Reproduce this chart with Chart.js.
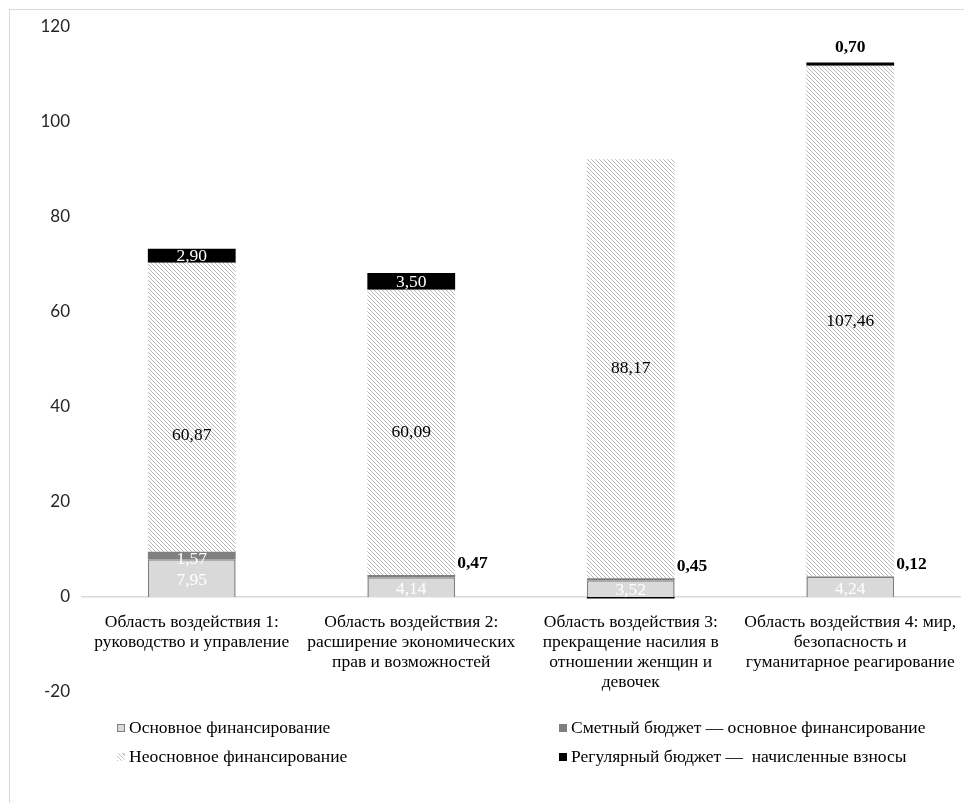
<!DOCTYPE html>
<html lang="ru">
<head>
<meta charset="utf-8">
<script src="https://cdn.jsdelivr.net/npm/chart.js@4"></script>
<style>
  body { margin: 0; background: #fff; }
  #wrap { position: relative; width: 964px; height: 803px; overflow: hidden; }
  #frame { position: absolute; left: 9px; top: 9px; width: 1000px; height: 1000px; border: 1px solid #d9d9d9; pointer-events: none; }
  canvas { position: absolute; left: 0; top: 0; }
  .lg { position: absolute; font: 17.5px "Liberation Serif", serif; color: #000; white-space: pre; line-height: 18px; }
  .lg i { display: inline-block; width: 8px; height: 8px; margin-right: 4px; vertical-align: 1px; box-sizing: border-box; }
</style>
</head>
<body>
<div id="wrap">
  <canvas id="chart" width="964" height="803"></canvas>
  <div id="frame"></div>
</div>
<script>
// категории (подписи по строкам, как в оригинале)
var categories = [
  ['Область воздействия 1:', 'руководство и управление'],
  ['Область воздействия 2:', 'расширение экономических', 'прав и возможностей'],
  ['Область воздействия 3:', 'прекращение насилия в', 'отношении женщин и', 'девочек'],
  ['Область воздействия 4: мир,', 'безопасность и', 'гуманитарное реагирование']
];
var seriesNames = [
  'Основное финансирование',
  'Сметный бюджет — основное финансирование',
  'Неосновное финансирование',
  'Регулярный бюджет —  начисленные взносы'
];
var coreFunding = [7.95, 4.14, 3.52, 4.24];
var budgetCore = [1.57, 0.47, 0.45, 0.12];
var nonCore = [60.87, 60.09, 88.17, 107.46];
var regularBudget = [2.90, 3.50, -0.30, 0.70];
var yTicks = [-20, 0, 20, 40, 60, 80, 100, 120];

var SERIF = '"Liberation Serif", "Times New Roman", serif';
var FS = 17.5;

function makeHatch() {
  var c = document.createElement('canvas');
  c.width = 4; c.height = 4;
  var g = c.getContext('2d');
  g.fillStyle = '#fff';
  g.fillRect(0, 0, 4, 4);
  g.strokeStyle = '#b8b8b8';
  g.lineWidth = 1;
  g.beginPath();
  g.moveTo(0, 0); g.lineTo(4, 4);
  g.moveTo(-1, 3); g.lineTo(1, 5);
  g.moveTo(3, -1); g.lineTo(5, 1);
  g.stroke();
  return document.getElementById('chart').getContext('2d').createPattern(c, 'repeat');
}

function fmt(v) {
  return Math.abs(v).toFixed(2).replace('.', ',');
}

// подписи значений
var valueLabels = {
  id: 'valueLabels',
  afterDatasetsDraw: function(chart) {
    var ctx = chart.ctx;
    ctx.save();
    ctx.textBaseline = 'middle';
    chart.data.datasets.forEach(function(ds, i) {
      var meta = chart.getDatasetMeta(i);
      meta.data.forEach(function(el, j) {
        var p = el.getProps(['x', 'y', 'base', 'width'], true);
        var v = ds.data[j];
        var txt = fmt(v);
        var mid = (p.y + p.base) / 2;
        ctx.font = FS + 'px ' + SERIF;
        ctx.textAlign = 'center';
        if (i === 0) {
          ctx.fillStyle = '#fff';
          ctx.fillText(txt, p.x, mid + 2);
        } else if (i === 1) {
          if (j === 0) {
            ctx.fillStyle = '#fff';
            ctx.fillText(txt, p.x, mid + 4);
          } else {
            ctx.font = 'bold ' + FS + 'px ' + SERIF;
            ctx.fillStyle = '#000';
            ctx.textAlign = 'left';
            ctx.fillText(txt, p.x + p.width / 2 + 2, p.y - 12);
          }
        } else if (i === 2) {
          ctx.fillStyle = '#000';
          ctx.fillText(txt, p.x, j === 0 ? mid + 28 : mid);
        } else if (i === 3) {
          if (v < 0) return;
          if (j === 3) {
            ctx.font = 'bold ' + FS + 'px ' + SERIF;
            ctx.fillStyle = '#000';
            ctx.fillText(txt, p.x, p.y - 15);
          } else {
            ctx.fillStyle = '#fff';
            ctx.fillText(txt, p.x, mid + 1);
          }
        }
      });
    });
    ctx.restore();
  }
};

var hatch = makeHatch();
var colors = ['#d9d9d9', '#7f7f7f', hatch, '#000000'];

var ctx = document.getElementById('chart').getContext('2d');
var myChart = new Chart(ctx, {
  type: 'bar',
  data: {
    labels: categories,
    datasets: [
      { label: seriesNames[0], data: coreFunding, backgroundColor: colors[0], borderColor: '#7f7f7f', borderWidth: 1.5 },
      { label: seriesNames[1], data: budgetCore, backgroundColor: colors[1], borderWidth: 0 },
      { label: seriesNames[2], data: nonCore, backgroundColor: colors[2], borderWidth: 0 },
      { label: seriesNames[3], data: regularBudget, backgroundColor: colors[3], borderWidth: 0 }
    ]
  },
  options: {
    responsive: false,
    animation: false,
    layout: { padding: { top: 27, bottom: 111, left: 0, right: 4 } },
    datasets: { bar: { barPercentage: 0.4, categoryPercentage: 1 } },
    plugins: { legend: { display: false }, tooltip: { enabled: false } },
    scales: {
      x: {
        stacked: true,
        position: { y: 0 },
        grid: { display: false, drawTicks: false },
        border: { display: true, color: '#d9d9d9', width: 1.5 },
        afterFit: function(scale) { scale.paddingLeft = 0; scale.paddingRight = 0; },
        ticks: {
          color: '#000',
          font: { family: SERIF, size: FS, lineHeight: 1.13 },
          padding: 16,
          maxRotation: 0,
          autoSkip: false
        }
      },
      y: {
        stacked: true,
        min: yTicks[0],
        max: yTicks[yTicks.length - 1],
        grid: { display: false, drawTicks: false },
        border: { display: false },
        afterFit: function(scale) { scale.width = 82; },
        ticks: {
          stepSize: yTicks[1] - yTicks[0],
          color: '#262626',
          padding: 12,
          font: { family: 'Lato, "Open Sans", sans-serif', size: 17 }
        }
      }
    }
  },
  plugins: [valueLabels]
});

// легенда
var wrap = document.getElementById('wrap');
var legendPos = [[117, 718], [559, 718], [117, 747], [559, 747]];
var markers = [
  'background:#d9d9d9;border:1px solid #808080;',
  'background:#7f7f7f;',
  'background:repeating-linear-gradient(45deg,#c8c8c8 0 1px,#fff 1px 3px);',
  'background:#000;'
];
seriesNames.forEach(function(name, i) {
  var d = document.createElement('div');
  d.className = 'lg';
  d.style.left = legendPos[i][0] + 'px';
  d.style.top = legendPos[i][1] + 'px';
  d.innerHTML = '<i style="' + markers[i] + '"></i>';
  d.appendChild(document.createTextNode(name));
  wrap.appendChild(d);
});
</script>
</body>
</html>
